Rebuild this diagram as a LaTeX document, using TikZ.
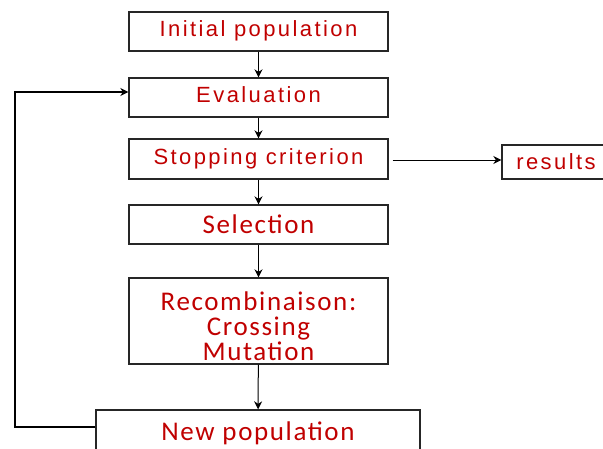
\documentclass[tikz,border=0pt]{standalone}
\usepackage{fontspec}
\newfontfamily\arialf[LetterSpace=11]{Liberation Sans}
\newfontfamily\calf[LetterSpace=6]{Carlito}
\usetikzlibrary{arrows.meta}
\definecolor{txtred}{RGB}{192,0,0}
\tikzset{
  box/.style={draw=black!85, line width=1.4pt, minimum width=259pt, inner sep=0pt, text=txtred, align=center},
  afont/.style={font=\arialf\fontsize{22}{25}\selectfont},
  cfont/.style={font=\calf\fontsize{27}{25}\selectfont},
  arr/.style={draw=black, line width=1pt, -{Stealth[length=8pt,width=8pt]}}
}
\begin{document}
\begin{tikzpicture}[x=1pt,y=1pt]
\useasboundingbox (0,0) rectangle (603,-448);
\node[box, afont, minimum height=39pt] (init) at (258.5,-31.5) {\raisebox{5pt}{Initial population}};
\node[box, afont, minimum height=39pt] (eval) at (258.5,-97.5) {\raisebox{5pt}{Evaluation}};
\node[box, afont, minimum height=40pt] (stop) at (258.5,-159) {Stopping criterion};
\node[box, afont, minimum width=108pt, minimum height=34pt] (res) at (556,-162) {results};
\node[box, cfont, minimum height=39pt] (sel) at (258.5,-224.5) {Selection};
\node[box, cfont, minimum height=86pt] (rec) at (258.5,-321) {\rule{0pt}{30pt}Recombinaison:\\Crossing\\Mutation};
\node[box, cfont, minimum width=324pt, minimum height=46pt] (newp) at (258,-433) {New population};
\coordinate (c1) at (15,-427);
\coordinate (c2) at (15,-92);
\draw[arr] (init) -- (eval);
\draw[arr] (eval) -- (stop);
\draw[arr] (stop) -- (sel);
\draw[arr] (sel) -- (rec);
\draw[arr] (rec) -- (newp);
\draw[arr] ([xshift=4pt,yshift=-1pt]stop.east) -- ([yshift=2pt]res.west);
\draw[arr, line width=1.2pt] ([yshift=6pt]newp.west) -- (c1) -- (c2) -- ([yshift=5.5pt]eval.west);
\end{tikzpicture}
\end{document}
